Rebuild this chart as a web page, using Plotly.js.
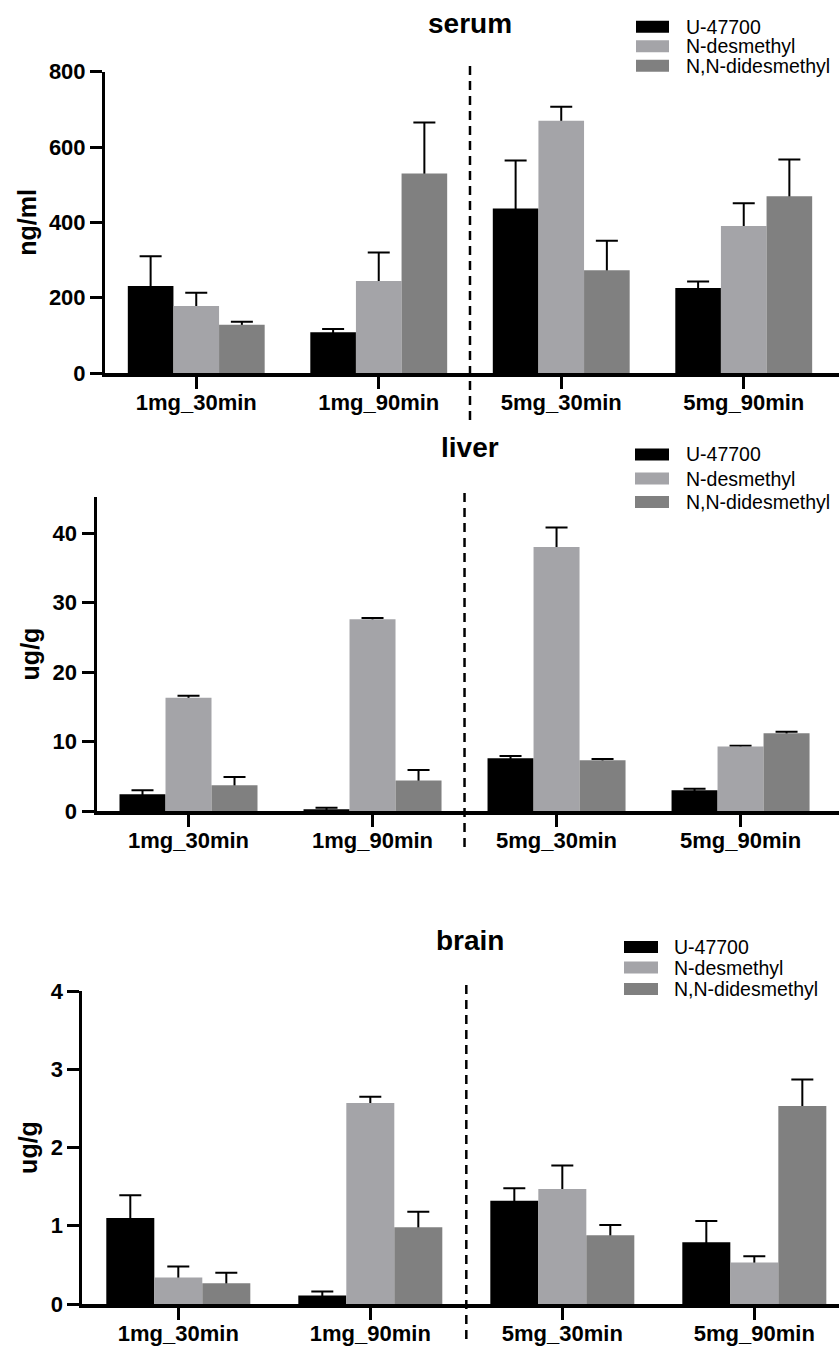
<!DOCTYPE html>
<html>
<head>
<meta charset="utf-8">
<script src="https://cdn.plot.ly/plotly-3.0.1.min.js"></script>
<style>html,body{margin:0;padding:0;background:#fff;}#chart{width:839px;height:1348px;}</style>
</head>
<body>
<div id="chart"></div>
<script>
// ---- data ----
var categories = ["1mg_30min", "1mg_90min", "5mg_30min", "5mg_90min"];
var seriesNames = ["U-47700", "N-desmethyl", "N,N-didesmethyl"];
var panelTitles = ["serum", "liver", "brain"];
var yTitles = ["ng/ml", "ug/g", "ug/g"];

var serumU = [231, 108, 437, 226];
var serumUErr = [79, 9, 127, 17];
var serumN = [178, 244, 670, 390];
var serumNErr = [35, 76, 37, 61];
var serumNN = [128, 530, 273, 469];
var serumNNErr = [8, 135, 78, 98];

var liverU = [2.4, 0.25, 7.6, 3.0];
var liverUErr = [0.6, 0.2, 0.3, 0.2];
var liverN = [16.3, 27.6, 38.0, 9.3];
var liverNErr = [0.3, 0.2, 2.8, 0.1];
var liverNN = [3.7, 4.4, 7.3, 11.2];
var liverNNErr = [1.2, 1.5, 0.2, 0.2];

var brainU = [1.10, 0.11, 1.32, 0.79];
var brainUErr = [0.29, 0.05, 0.16, 0.27];
var brainN = [0.34, 2.57, 1.47, 0.53];
var brainNErr = [0.14, 0.08, 0.30, 0.08];
var brainNN = [0.265, 0.98, 0.88, 2.53];
var brainNNErr = [0.135, 0.20, 0.13, 0.34];

// ---- styling ----
var colors = ["#000000", "#a4a4a8", "#808080"];
var FONT = "Liberation Sans, Arial, sans-serif";
var W = 839, H = 1348;
function py(p) { return 1 - p / H; }
function px(p) { return p / W; }

var panels = [
  { vals: [serumU, serumN, serumNN], errs: [serumUErr, serumNErr, serumNNErr],
    xdom: [px(105), 1], xrange: [-0.5, 3.522], ypix: [373, 71.7], yrange: [0, 800], dtick: 200,
    title: [470, 24], legend: { sw: [636, 669], tx: 685, rows: [26.8, 46.2, 65.8] }, dash: [66, 420] },
  { vals: [liverU, liverN, liverNN], errs: [liverUErr, liverNErr, liverNNErr],
    xdom: [px(96.5), 1], xrange: [-0.5, 3.535], ypix: [811, 497], yrange: [0, 45.2], dtick: 10,
    title: [470, 448], legend: { sw: [635, 669], tx: 685, rows: [454.5, 478.5, 502] }, dash: [493, 850] },
  { vals: [brainU, brainN, brainNN], errs: [brainUErr, brainNErr, brainNNErr],
    xdom: [px(82.3), 1], xrange: [-0.5, 3.441], ypix: [1304, 991], yrange: [0, 4], dtick: 1,
    title: [470, 940], legend: { sw: [624, 658], tx: 673, rows: [947, 967.5, 989] }, dash: [985, 1342] }
];

var errTraces = [];
var barTraces = [];
var layout = {
  width: W, height: H,
  margin: { l: 0, r: 0, t: 0, b: 0 },
  paper_bgcolor: "#ffffff", plot_bgcolor: "#ffffff",
  barmode: "group", bargap: 0.25, bargroupgap: 0,
  showlegend: false,
  font: { family: FONT, color: "#000000" },
  annotations: [], shapes: []
};

panels.forEach(function (p, i) {
  var sfx = i === 0 ? "" : String(i + 1);
  var xa = "x" + sfx, ya = "y" + sfx;
  // hide the lower cap of each error bar a few pixels inside its bar
  var capHide = (p.yrange[1] - p.yrange[0]) * 4 / (p.ypix[0] - p.ypix[1]);
  for (var s = 0; s < 3; s++) {
    errTraces.push({
      type: "bar", x: categories, y: p.vals[s], name: seriesNames[s] + " SD",
      xaxis: xa, yaxis: ya, offsetgroup: String(s), showlegend: false,
      marker: { color: "rgba(0,0,0,0)", line: { width: 0 } },
      error_y: { type: "data", array: p.errs[s], arrayminus: p.vals[s].map(function () { return capHide; }),
                 symmetric: false, color: "#000000", thickness: 2, width: 11 },
      hoverinfo: "skip"
    });
    barTraces.push({
      type: "bar", x: categories, y: p.vals[s], name: seriesNames[s],
      xaxis: xa, yaxis: ya, offsetgroup: String(s), showlegend: false,
      marker: { color: colors[s], line: { width: 0 } },
      hoverinfo: "x+y+name"
    });
    var lg = p.legend;
    layout.shapes.push({
      type: "rect", xref: "paper", yref: "paper",
      x0: px(lg.sw[0]), x1: px(lg.sw[1]), y0: py(lg.rows[s] + 6), y1: py(lg.rows[s] - 6),
      fillcolor: colors[s], line: { width: 0 }
    });
    layout.annotations.push({
      text: seriesNames[s], xref: "paper", yref: "paper", x: px(lg.tx), y: py(lg.rows[s]),
      xanchor: "left", yanchor: "middle", showarrow: false, borderpad: 0,
      font: { family: FONT, size: 19.5, color: "#000" }
    });
  }
  layout["xaxis" + sfx] = {
    domain: p.xdom, anchor: ya, type: "category", range: p.xrange,
    showgrid: false, zeroline: false, showline: true, linecolor: "#000", linewidth: 4,
    ticks: "outside", ticklen: 12, tickwidth: 3, tickcolor: "#000",
    tickfont: { family: FONT, size: 22, weight: "bold", color: "#000" },
    ticklabelstandoff: -5, fixedrange: true
  };
  layout["yaxis" + sfx] = {
    domain: [py(p.ypix[0]), py(p.ypix[1])], anchor: xa, range: p.yrange, dtick: p.dtick, tick0: 0,
    showgrid: false, zeroline: false, showline: true, linecolor: "#000", linewidth: 3,
    ticks: "outside", ticklen: 12, tickwidth: 3, tickcolor: "#000",
    tickfont: { family: FONT, size: 22, weight: "bold", color: "#000" },
    title: { text: yTitles[i], font: { family: FONT, size: 25, weight: "bold", color: "#000" }, standoff: 6 },
    automargin: false, fixedrange: true
  };
  layout.annotations.push({
    text: panelTitles[i], xref: "paper", yref: "paper", x: px(p.title[0]), y: py(p.title[1]),
    xanchor: "center", yanchor: "middle", showarrow: false,
    font: { family: FONT, size: 28, weight: "bold", color: "#000" }
  });
  layout.shapes.push({
    type: "line", xref: xa, yref: "paper", x0: 1.5, x1: 1.5, y0: py(p.dash[0]), y1: py(p.dash[1]),
    line: { color: "#000", width: 2.5, dash: "9px,6px" }
  });
});

Plotly.newPlot("chart", errTraces.concat(barTraces), layout, { displayModeBar: false, staticPlot: true });
</script>
</body>
</html>
